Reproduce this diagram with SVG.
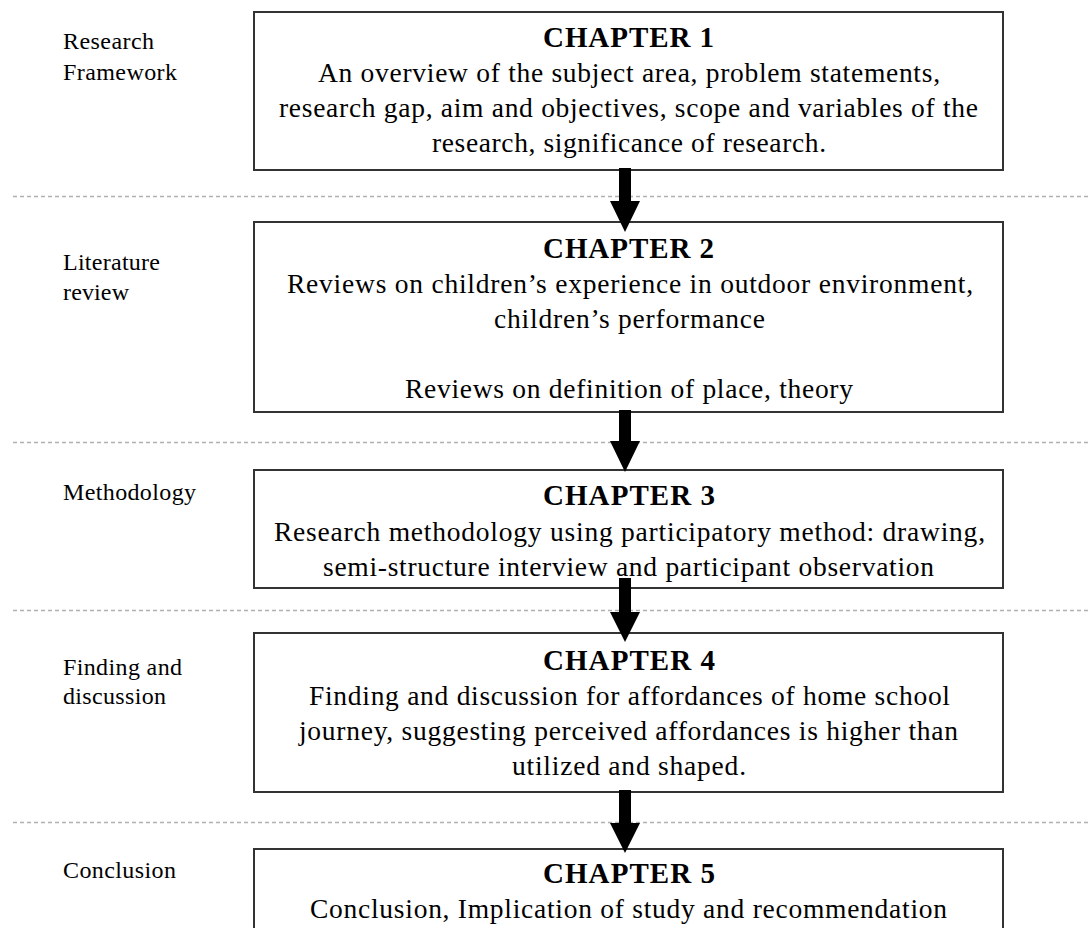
<svg xmlns="http://www.w3.org/2000/svg" width="1091" height="928" viewBox="0 0 1091 928">
  <style>
    .box { fill: #ffffff; stroke: #333333; stroke-width: 2; }
    .sep { stroke: #b0b0b0; stroke-width: 1.5; stroke-dasharray: 4 3; }
    .title { font-family: "Liberation Serif", "Times New Roman", serif; font-size: 29px; font-weight: bold; fill: #000; text-anchor: middle; }
    .body { font-family: "Liberation Serif", "Times New Roman", serif; font-size: 27.5px; fill: #000; text-anchor: middle; }
    .label { font-family: "Liberation Serif", "Times New Roman", serif; font-size: 24px; fill: #000; }
    .arrow { fill: #000; }
  </style>
  <rect width="1091" height="928" fill="#ffffff"/>

  <!-- section separators -->
  <g id="separators">
    <line class="sep" x1="13" y1="196.5" x2="1091" y2="196.5"/>
    <line class="sep" x1="13" y1="442.5" x2="1091" y2="442.5"/>
    <line class="sep" x1="13" y1="610.5" x2="1091" y2="610.5"/>
    <line class="sep" x1="13" y1="822.5" x2="1091" y2="822.5"/>
  </g>

  <!-- section labels -->
  <g id="labels">
    <text class="label" x="63" y="49" textLength="91" lengthAdjust="spacing">Research</text>
    <text class="label" x="63" y="80" textLength="114" lengthAdjust="spacing">Framework</text>
    <text class="label" x="63" y="270" textLength="97" lengthAdjust="spacing">Literature</text>
    <text class="label" x="63" y="300" textLength="66" lengthAdjust="spacing">review</text>
    <text class="label" x="63" y="500" textLength="133" lengthAdjust="spacing">Methodology</text>
    <text class="label" x="63" y="675" textLength="119" lengthAdjust="spacing">Finding and</text>
    <text class="label" x="63" y="704" textLength="103" lengthAdjust="spacing">discussion</text>
    <text class="label" x="63" y="878" textLength="113" lengthAdjust="spacing">Conclusion</text>
  </g>

  <g id="chapter1">
    <rect class="box" x="254" y="12" width="749" height="158"/>
    <text class="title" x="628.5" y="47" textLength="171" lengthAdjust="spacing">CHAPTER 1</text>
    <text class="body" x="629" y="82" textLength="622" lengthAdjust="spacing">An overview of the subject area, problem statements,</text>
    <text class="body" x="628.5" y="117" textLength="699" lengthAdjust="spacing">research gap, aim and objectives, scope and variables of the</text>
    <text class="body" x="629" y="152" textLength="394" lengthAdjust="spacing">research, significance of research.</text>
  </g>

  <g id="chapter2">
    <rect class="box" x="254" y="222" width="749" height="190"/>
    <text class="title" x="628.5" y="258" textLength="171" lengthAdjust="spacing">CHAPTER 2</text>
    <text class="body" x="630" y="293" textLength="686" lengthAdjust="spacing">Reviews on children’s experience in outdoor environment,</text>
    <text class="body" x="629.5" y="328" textLength="271" lengthAdjust="spacing">children’s performance</text>
    <text class="body" x="629" y="398" textLength="448" lengthAdjust="spacing">Reviews on definition of place, theory</text>
  </g>

  <g id="chapter3">
    <rect class="box" x="254" y="470" width="749" height="118"/>
    <text class="title" x="629" y="505" textLength="172" lengthAdjust="spacing">CHAPTER 3</text>
    <text class="body" x="629.5" y="541" textLength="711" lengthAdjust="spacing">Research methodology using participatory method: drawing,</text>
    <text class="body" x="628.5" y="576" textLength="611" lengthAdjust="spacing">semi-structure interview and participant observation</text>
  </g>

  <g id="chapter4">
    <rect class="box" x="254" y="633" width="749" height="159"/>
    <text class="title" x="629" y="670" textLength="172" lengthAdjust="spacing">CHAPTER 4</text>
    <text class="body" x="629.5" y="705" textLength="641" lengthAdjust="spacing">Finding and discussion for affordances of home school</text>
    <text class="body" x="628.5" y="740" textLength="659" lengthAdjust="spacing">journey, suggesting perceived affordances is higher than</text>
    <text class="body" x="629" y="775" textLength="234" lengthAdjust="spacing">utilized and shaped.</text>
  </g>

  <g id="chapter5">
    <rect class="box" x="254" y="849" width="749" height="100"/>
    <text class="title" x="629" y="883" textLength="172" lengthAdjust="spacing">CHAPTER 5</text>
    <text class="body" x="628.5" y="918" textLength="637" lengthAdjust="spacing">Conclusion, Implication of study and recommendation</text>
  </g>

  <!-- block arrows between chapters -->
  <g id="connectors">
    <polygon class="arrow" points="619,168 631,168 631,201 640,201 625,232 610,201 619,201"/>
    <polygon class="arrow" points="619,410 631,410 631,441 640,441 625,472 610,441 619,441"/>
    <polygon class="arrow" points="619,578 631,578 631,612 640,612 625,642 610,612 619,612"/>
    <polygon class="arrow" points="619,790 631,790 631,823 640,823 625,853 610,823 619,823"/>
  </g>
</svg>
